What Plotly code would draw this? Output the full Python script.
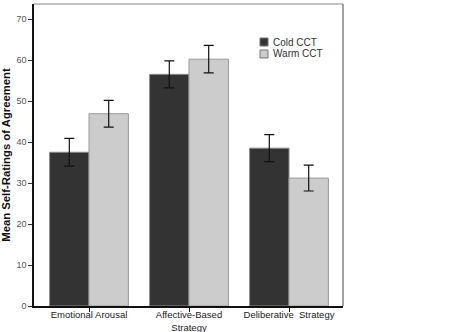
import plotly.graph_objects as go

categories = ["Emotional Arousal", "Affective-Based<br>Strategy", "Deliberative  Strategy"]
cold_mean = [37.5, 56.5, 38.5]
cold_err = [3.4, 3.3, 3.3]
warm_mean = [46.9, 60.2, 31.2]
warm_err = [3.25, 3.35, 3.15]
y_ticks = [0, 10, 20, 30, 40, 50, 60, 70]
series_names = ["Cold CCT", "Warm CCT"]
series_colors = ["#333333", "#cccccc"]
series_edges = ["#8a8a8a", "#999999"]

fig = go.Figure()
for name, mean, err, col, edge in zip(series_names, [cold_mean, warm_mean],
                                      [cold_err, warm_err], series_colors, series_edges):
    fig.add_trace(go.Bar(
        x=categories, y=mean, name=name,
        marker=dict(color=col, line=dict(color=edge, width=1)),
        error_y=dict(type="data", array=err, color="#111111", thickness=1.2, width=5),
    ))

fig.update_layout(
    width=461, height=332,
    margin=dict(l=34, r=118, t=4, b=26),
    paper_bgcolor="white", plot_bgcolor="white",
    barmode="group", bargap=0.212, bargroupgap=0,
    font=dict(family="Liberation Sans, Arial, sans-serif", color="#222222"),
    showlegend=False,
    xaxis=dict(
        range=[-0.55, 2.54], showgrid=False, zeroline=False, automargin=False,
        showline=True, linecolor="#111111", linewidth=1.5,
        ticks="outside", ticklen=4, tickcolor="#111111",
        ticklabelstandoff=-5,
        tickfont=dict(size=9.5, color="#222222"),
    ),
    yaxis=dict(
        range=[0, 73.66], tickvals=y_ticks, showgrid=False, zeroline=False, automargin=False,
        showline=True, linecolor="#111111", linewidth=1.5,
        ticks="outside", ticklen=4, tickcolor="#333333",
        tickfont=dict(size=9, color="#555555"),
        title=dict(text="<b>Mean Self-Ratings of Agreement</b>",
                   font=dict(size=11.3, color="#111111"), standoff=8),
    ),
)

# Frame: light top and right edges
fig.add_shape(type="line", xref="paper", yref="paper", x0=0, x1=1, y0=1, y1=1,
              line=dict(color="#888888", width=1.2))
fig.add_shape(type="line", xref="paper", yref="paper", x0=1, x1=1, y0=0, y1=1,
              line=dict(color="#666666", width=1.2))

# Compact legend in the upper right of the plot area
leg_x0, leg_x1, leg_tx = 0.7314, 0.7573, 0.767
leg_rows = [(0.8874, 0.8609), (0.8477, 0.8212)]
for (top, bottom), name, col, edge in zip(leg_rows, series_names, series_colors, series_edges):
    fig.add_shape(type="rect", xref="paper", yref="paper",
                  x0=leg_x0, x1=leg_x1, y0=bottom, y1=top,
                  fillcolor=col, line=dict(color="#777777", width=1))
    fig.add_annotation(xref="paper", yref="paper", x=leg_tx, y=(top + bottom) / 2,
                       text=name, showarrow=False, xanchor="left", yanchor="middle",
                       font=dict(size=10, color="#333333"))

fig.write_html("out.html")
